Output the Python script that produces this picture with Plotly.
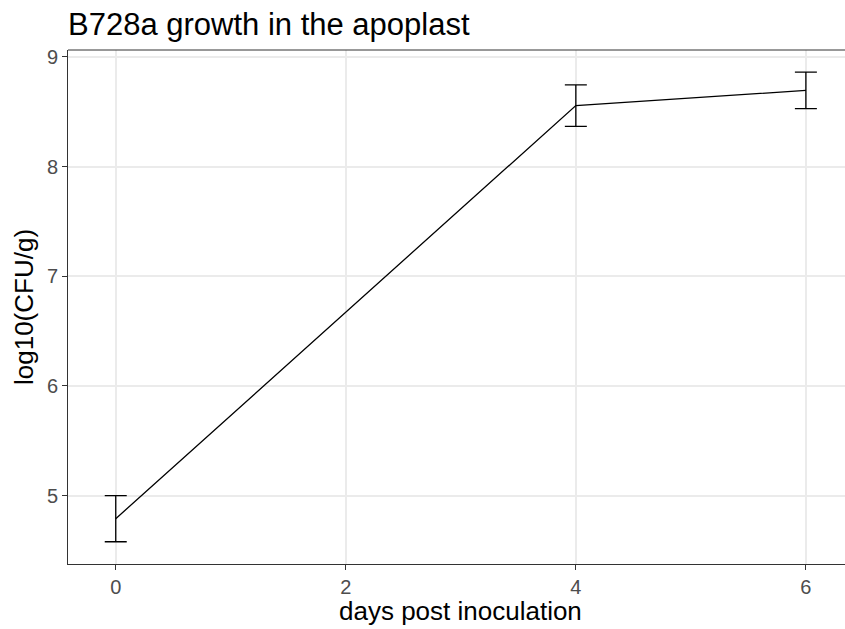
import plotly.graph_objects as go

days = [0, 4, 6]
log_cfu = [4.79, 8.555, 8.694]
err = [0.21, 0.19, 0.167]
x_ticks = [0, 2, 4, 6]
y_ticks = [5, 6, 7, 8, 9]

title_text = "B728a growth in the apoplast"
x_title = "days post inoculation"
y_title = "log10(CFU/g)"

FONT = "Liberation Sans, Arial, Helvetica, sans-serif"

fig = go.Figure()
fig.add_trace(go.Scatter(
    x=days, y=log_cfu, mode="lines",
    line=dict(color="black", width=1.3),
    error_y=dict(type="data", array=err, visible=True, color="black",
                 thickness=1.3, width=11),
    showlegend=False, hoverinfo="skip",
))

fig.update_layout(
    width=845, height=629,
    margin=dict(l=68, r=0, t=50, b=65),
    paper_bgcolor="white", plot_bgcolor="white",
    font=dict(family=FONT, color="black"),
    title=dict(text=title_text, x=0, xref="paper", xanchor="left",
               y=1 - 24 / 629, yref="container", yanchor="middle",
               font=dict(size=31, color="black", family=FONT)),
    xaxis=dict(range=[-0.415, 6.34], tickvals=x_ticks, ticks="outside",
               ticklen=5, tickwidth=1, tickcolor="#333333",
               tickfont=dict(size=20, color="#4D4D4D"),
               showgrid=True, gridcolor="#EBEBEB", gridwidth=2,
               showline=True, linecolor="#333333", linewidth=1,
               zeroline=False),
    yaxis=dict(range=[4.377, 9.062], tickvals=y_ticks, ticks="outside",
               ticklen=5, tickwidth=1, tickcolor="#333333",
               tickfont=dict(size=20, color="#4D4D4D"),
               showgrid=True, gridcolor="#EBEBEB", gridwidth=2,
               showline=True, linecolor="#333333", linewidth=1,
               zeroline=False),
    shapes=[dict(type="line", xref="paper", yref="paper", x0=0, x1=1,
                 y0=1, y1=1, line=dict(color="#333333", width=1))],
    annotations=[
        dict(text=x_title, xref="x", x=3.0, yref="paper", y=0,
             yshift=-47, xanchor="center", yanchor="middle", showarrow=False,
             font=dict(size=26, color="black", family=FONT)),
        dict(text=y_title, xref="paper", x=0, xshift=-44, yref="paper", y=0.5,
             xanchor="center", yanchor="middle", textangle=-90, showarrow=False,
             font=dict(size=26, color="black", family=FONT)),
    ],
)

fig.write_html("out.html")
